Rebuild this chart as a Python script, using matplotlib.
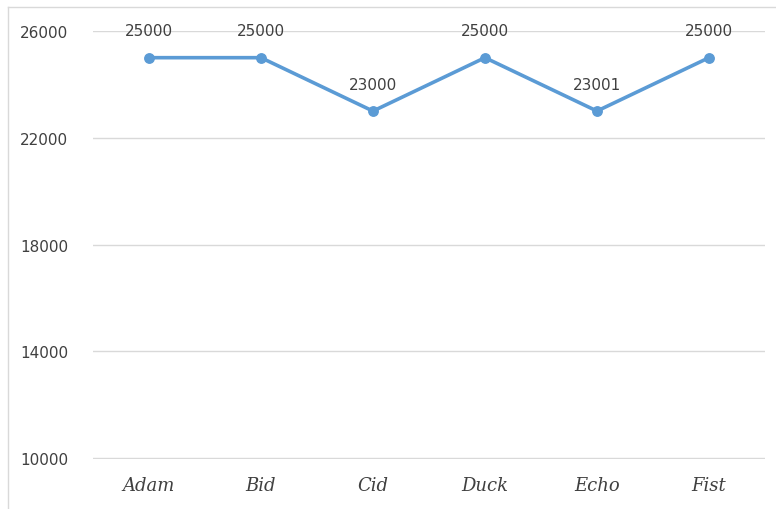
import matplotlib.pyplot as plt
from matplotlib.lines import Line2D

names = ['Adam', 'Bid', 'Cid', 'Duck', 'Echo', 'Fist']
salary = [25000, 25000, 23000, 25000, 23001, 25000]
yticks = [10000, 14000, 18000, 22000, 26000]

fig = plt.figure(figsize=(7.76, 5.10), dpi=100)
ax = fig.add_axes([0.1198, 0.098, 0.866, 0.8393])

x = list(range(len(names)))
ax.plot(x, salary, color='#5B9BD5', linewidth=2.6, marker='o', markersize=6.8,
        solid_capstyle='round', zorder=3)
for xi, v in zip(x, salary):
    ax.annotate(str(v), (xi, v), xytext=(0, 14), textcoords='offset points',
                ha='center', va='bottom', fontsize=11, color='#404040')

ax.set_xlim(-0.5, len(names) - 0.5)
ax.set_ylim(9970, 26000)
ax.set_yticks(yticks)
ax.set_yticklabels([str(t) for t in yticks], fontsize=11, color='#404040')
ax.set_xticks(x)
ax.set_xticklabels(names, fontsize=13, color='#404040', style='italic',
                   family='DejaVu Serif')
ax.tick_params(axis='both', length=0)
ax.tick_params(axis='y', pad=18)
ax.tick_params(axis='x', pad=12)
ax.grid(axis='y', color='#D9D9D9', linewidth=1)
ax.set_axisbelow(True)
for s in ax.spines.values():
    s.set_visible(False)

# outer chart border (top and left only visible)
fig.add_artist(Line2D([8 / 776, 1], [1 - 8 / 510, 1 - 8 / 510], color='#D9D9D9', linewidth=1))
fig.add_artist(Line2D([8 / 776, 8 / 776], [0, 1 - 8 / 510], color='#D9D9D9', linewidth=1))

fig.savefig('out.png', dpi=100)
